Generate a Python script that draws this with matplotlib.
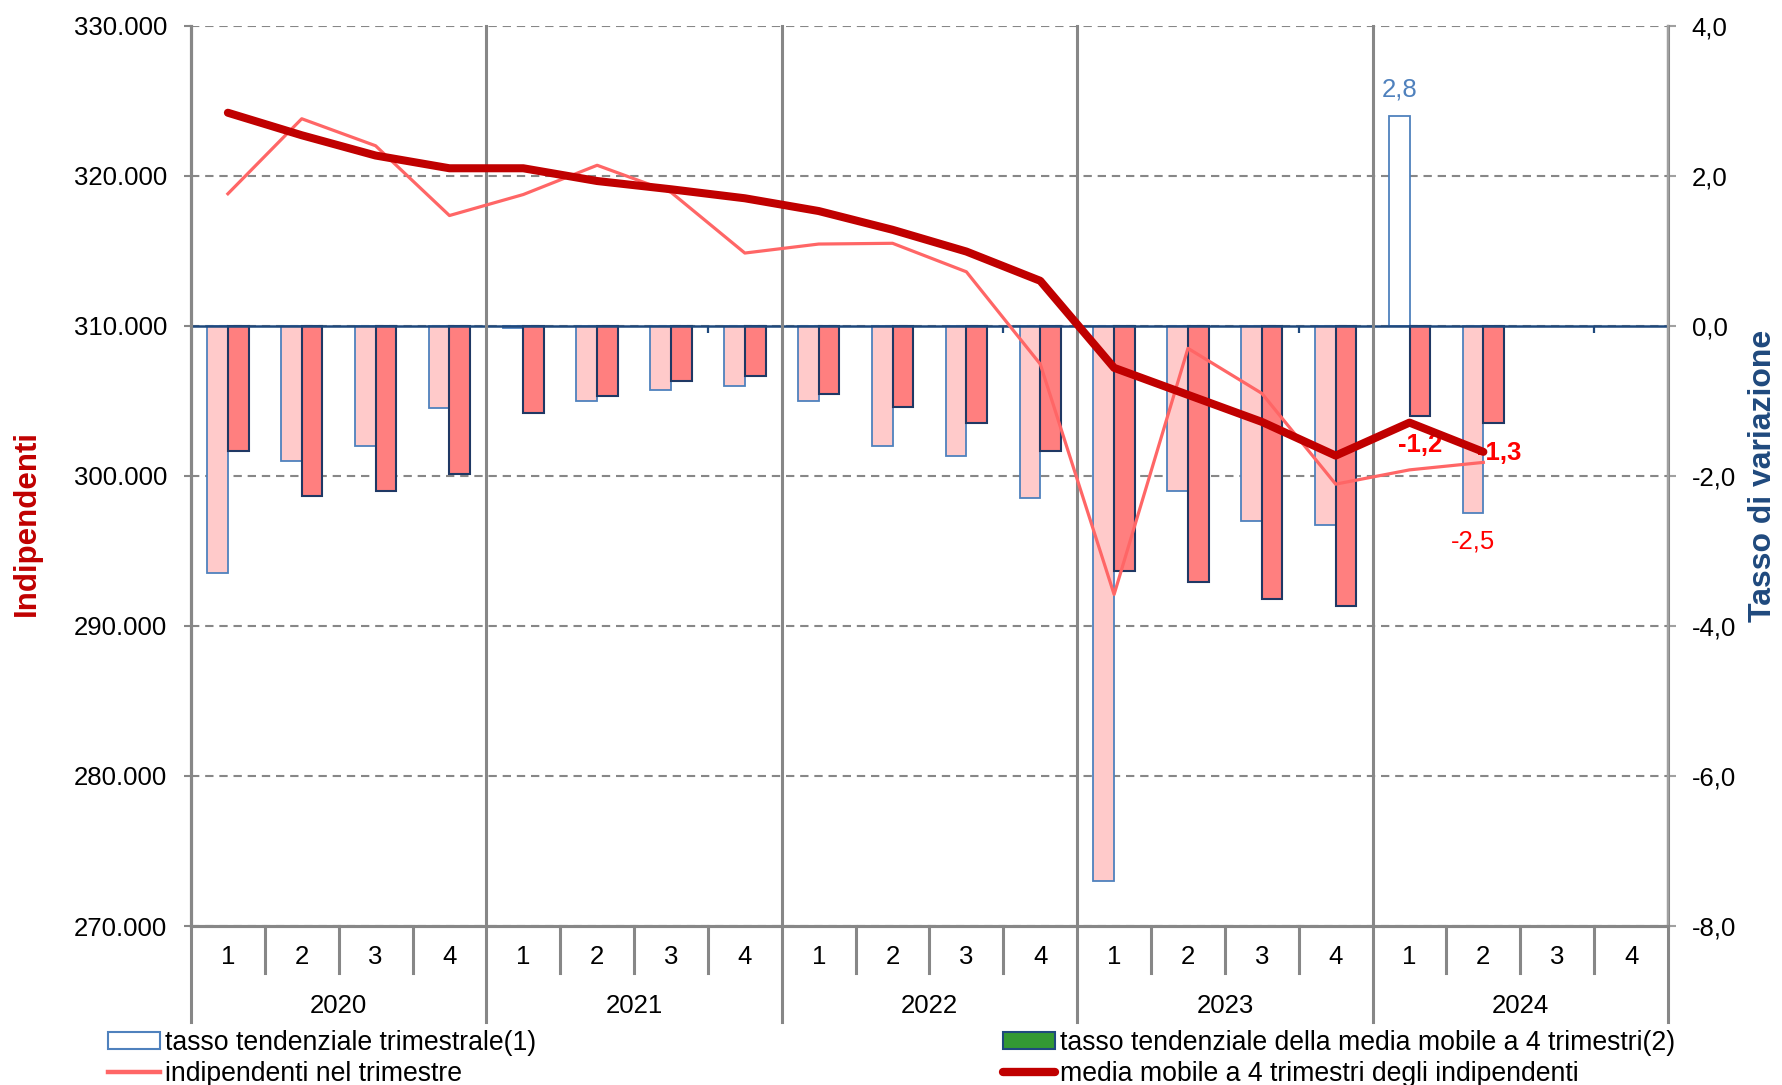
import numpy as np
import matplotlib
matplotlib.use("Agg")
import matplotlib.pyplot as plt
from matplotlib.patches import Patch
from matplotlib.lines import Line2D
from matplotlib.ticker import FuncFormatter
import matplotlib.transforms as mtransforms

plt.rcParams['font.family'] = ['Liberation Sans', 'DejaVu Sans']

# ---------------- data ----------------
years = ["2020", "2021", "2022", "2023", "2024"]
quarters = ["1", "2", "3", "4"]

# tasso tendenziale trimestrale (1)  [%] - right axis
tasso_trim = [-3.3, -1.8, -1.6, -1.1,
              -0.03, -1.0, -0.86, -0.8,
              -1.0, -1.6, -1.74, -2.3,
              -7.4, -2.2, -2.6, -2.65,
              2.8, -2.5, np.nan, np.nan]
# tasso tendenziale della media mobile a 4 trimestri (2) [%] - right axis
tasso_mm = [-1.67, -2.27, -2.2, -1.97,
            -1.16, -0.93, -0.74, -0.67,
            -0.91, -1.08, -1.3, -1.67,
            -3.27, -3.42, -3.64, -3.73,
            -1.2, -1.3, np.nan, np.nan]
# indipendenti nel trimestre - left axis
indipendenti = [318800, 323800, 322000, 317350,
                318750, 320700, 318900, 314850,
                315450, 315500, 313600, 307450,
                292100, 308500, 305500, 299450,
                300400, 300900, np.nan, np.nan]
# media mobile a 4 trimestri degli indipendenti - left axis
media_mobile = [324200, 322700, 321350, 320500,
                320500, 319650, 319100, 318500,
                317650, 316400, 314950, 313000,
                307200, 305400, 303600, 301350,
                303550, 301600, np.nan, np.nan]

# labelled points (index)
lab_trim = [16, 17]
lab_mm = [16, 17]

# ---------------- styles ----------------
C_LIGHT_FILL = '#FFCACA'
C_LIGHT_EDGE = '#4F81BD'
C_RED_FILL = '#FF7F7F'
C_RED_EDGE = '#1F3864'
C_THIN = '#FF6666'
C_THICK = '#C00000'
C_GRID = '#878787'
C_NAVY = '#1F497D'
FS = 18.5
FS_LEG = 19.2

fig = plt.figure(figsize=(17.83, 10.85), dpi=100)
ax = fig.add_axes([0.1071, 0.1465, 0.8284, 0.8298])
ax2 = ax.twinx()
ax.set_zorder(ax2.get_zorder() + 1)
ax.patch.set_visible(False)

n = len(years) * len(quarters)
x = np.arange(n)
ax.set_xlim(-0.5, n - 0.5)
ax2.set_xlim(-0.5, n - 0.5)
ax.set_ylim(270000, 330000)
ax2.set_ylim(-8, 4)

# grid (behind bars)
ax2.set_axisbelow(True)
ax2.set_yticks(np.arange(-8, 4.1, 2))
ax.set_yticks(np.arange(270000, 330001, 10000))
ax2.yaxis.grid(True, color=C_GRID, linestyle=(0, (4, 2.8)), linewidth=1.5)
ax.yaxis.grid(False)

# bars
bw = 0.28
tt = np.array(tasso_trim, dtype=float)
light_face = ['white' if (not np.isnan(v) and v > 0) else C_LIGHT_FILL for v in tt]
ax2.bar(x - bw / 2, tt, width=bw, color=light_face, edgecolor=C_LIGHT_EDGE,
        linewidth=1.3, zorder=2)
ax2.bar(x + bw / 2, tasso_mm, width=bw, color=C_RED_FILL, edgecolor=C_RED_EDGE,
        linewidth=1.5, zorder=2)

# zero line with small ticks
ax2.axhline(0, color=C_NAVY, linewidth=1.8, zorder=3)
ax2.vlines(np.arange(6.5, n, 4), -0.09, 0, color=C_NAVY, linewidth=1.6, zorder=3)

# year boundaries (vertical grid and separators below the axis)
blend = mtransforms.blended_transform_factory(ax.transData, ax.transAxes)
year_bounds = np.arange(-0.5, n, len(quarters))
for b in year_bounds:
    ax.plot([b, b], [-0.1066, 1.0], transform=blend, color=C_GRID, lw=2.2,
            clip_on=False, zorder=0.5)
for b in np.arange(0.5, n - 0.5, 1):
    if (b + 0.5) % len(quarters) != 0:
        ax.plot([b, b], [-0.0522, 0], transform=blend, color=C_GRID, lw=2.2,
                clip_on=False)

# lines
ax.plot(x, indipendenti, color=C_THIN, lw=2.3, zorder=4)
ax.plot(x, media_mobile, color=C_THICK, lw=5.8, zorder=5,
        solid_capstyle='round')

# category labels
for i in range(n):
    ax.text(x[i], -0.0344, quarters[i % 4], transform=blend, ha='center',
            va='center', fontsize=FS)
for k, y in enumerate(years):
    ax.text(k * 4 + 1.5, -0.0889, y, transform=blend, ha='center',
            va='center', fontsize=FS)

# spines / ticks
for a in (ax, ax2):
    a.spines['top'].set_visible(False)
    a.spines['left'].set_color(C_GRID)
    a.spines['left'].set_linewidth(2.2)
    a.spines['right'].set_color('#A0A0A0')
    a.spines['right'].set_linewidth(1.6)
    a.spines['bottom'].set_color(C_GRID)
    a.spines['bottom'].set_linewidth(2.2)
    a.set_xticks([])
ax.tick_params(axis='y', direction='out', length=5, width=1.5, color=C_GRID,
               labelsize=FS, pad=12)
ax2.tick_params(axis='y', direction='out', length=5.5, width=1.5, color='#A0A0A0',
                labelsize=FS, pad=11.5)
ax.yaxis.set_major_formatter(FuncFormatter(lambda v, p: f"{int(round(v)):,}".replace(',', '.')))
ax2.yaxis.set_major_formatter(FuncFormatter(lambda v, p: f"{v:.1f}".replace('.', ',')))

# data labels
def fmt(v):
    return f"{v:.1f}".replace('.', ',')

i = lab_trim[0]
ax2.annotate(fmt(tt[i]), (x[i] - bw / 2, tt[i]), xytext=(0, 19),
             textcoords='offset points', ha='center', va='center',
             fontsize=FS, color=C_LIGHT_EDGE)
i = lab_trim[1]
ax2.annotate(fmt(tt[i]), (x[i] - bw / 2, tt[i]), xytext=(0, -20.5),
             textcoords='offset points', ha='center', va='center',
             fontsize=FS, color='#FF0000')
for i, dx in zip(lab_mm, (0, 4.3)):
    ax2.annotate(fmt(tasso_mm[i]), (x[i] + bw / 2, tasso_mm[i]), xytext=(dx, -21),
                 textcoords='offset points', ha='center', va='center',
                 fontsize=FS, color='#FF0000', fontweight='bold')

# axis titles
fig.text(0.0149, 0.518, "Indipendenti", rotation=90, ha='center', va='center',
         fontsize=22.5, fontweight='bold', color=C_THICK)
fig.text(0.9888, 0.5613, "Tasso di variazione", rotation=90, ha='center',
         va='center', fontsize=23, fontweight='bold', color=C_NAVY)

# legends
h1 = [Patch(facecolor='white', edgecolor=C_LIGHT_EDGE, linewidth=1.5),
      Line2D([], [], color=C_THIN, lw=3.2)]
l1 = ["tasso tendenziale trimestrale(1)", "indipendenti nel trimestre"]
h2 = [Patch(facecolor='#339933', edgecolor=C_NAVY, linewidth=1.5),
      Line2D([], [], color=C_THICK, lw=6, solid_capstyle='round')]
l2 = ["tasso tendenziale della media mobile a 4 trimestri(2)",
      "media mobile a 4 trimestri degli indipendenti"]
common = dict(frameon=False, fontsize=FS_LEG, handlelength=1.95, handleheight=0.58,
              handletextpad=0.2, labelspacing=0.17, borderpad=0, borderaxespad=0,
              loc='upper left')
leg1 = fig.legend(h1, l1, bbox_to_anchor=(0.0606, 0.0507), **common)
leg2 = fig.legend(h2, l2, bbox_to_anchor=(0.5625, 0.0507), **common)

fig.savefig("out.png", dpi=100, facecolor='white')
